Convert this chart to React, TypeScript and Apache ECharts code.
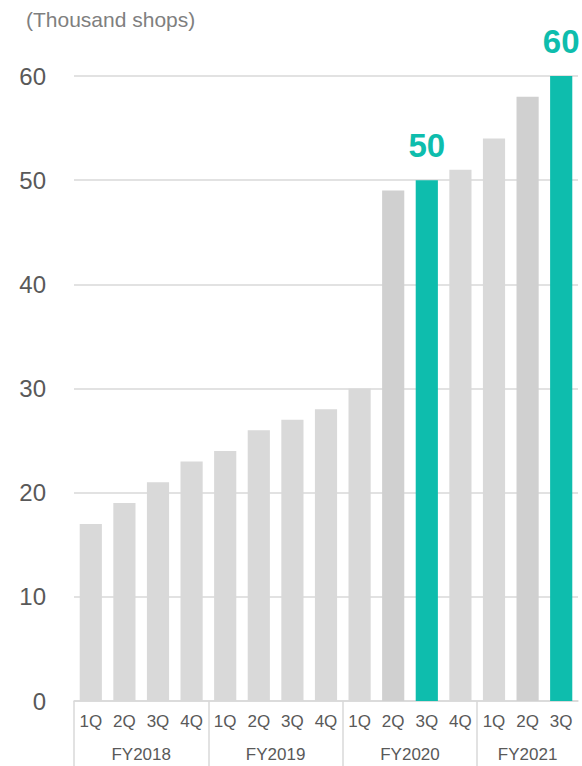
import React, { useEffect, useRef } from "react";
import * as echarts from "echarts";

// Shop count by quarter (thousand shops)
const quarters = ["1Q", "2Q", "3Q", "4Q", "1Q", "2Q", "3Q", "4Q", "1Q", "2Q", "3Q", "4Q", "1Q", "2Q", "3Q"];
const shops = [17, 19, 21, 23, 24, 26, 27, 28, 30, 49, 50, 51, 54, 58, 60];
const fiscalYears = ["FY2018", "FY2019", "FY2020", "FY2021"];
const quartersPerYear = [4, 4, 4, 3];
const milestones = [50, 60];
const unitLabel = "(Thousand shops)";
const yMin = 0;
const yMax = 60;
const yStep = 10;

const FONT = "'Liberation Sans', Arial, sans-serif";
const TEAL = "#0ebdad";
const GREY = "#d9d9d9";
const GREY_DARK = "#d0d0d0";
const TEXT = "#595959";
const LINE = "#d9d9d9";

export default function App() {
  const ref = useRef<HTMLDivElement>(null);

  useEffect(() => {
    if (!ref.current) return;
    const chart = echarts.init(ref.current, null, { renderer: "svg" });

    // Second-level axis: half-category points so year labels sit at group centres
    const halfPoints: string[] = new Array(quarters.length * 2 + 1).fill("");
    const boundaries: number[] = [];
    let start = 0;
    fiscalYears.forEach((fy, i) => {
      boundaries.push(start * 2);
      halfPoints[start * 2 + quartersPerYear[i]] = fy;
      start += quartersPerYear[i];
    });

    const barData = shops.map((v, i) => {
      const isMilestone = milestones.includes(v);
      const darker = quarters[i] === "2Q" && i >= 8;
      return {
        value: v,
        itemStyle: { color: isMilestone ? TEAL : darker ? GREY_DARK : GREY },
        label: isMilestone
          ? {
              show: true,
              position: "top",
              distance: 18,
              formatter: "{c}",
              color: TEAL,
              fontSize: 33,
              fontWeight: "bold",
              fontFamily: FONT,
            }
          : { show: false },
      };
    });

    chart.setOption({
      animation: false,
      title: {
        text: unitLabel,
        left: 21,
        top: 4,
        textStyle: { color: "#7f7f7f", fontSize: 21, fontWeight: "normal", fontFamily: FONT },
      },
      grid: { left: 74, right: 4, top: 76, bottom: 65, containLabel: false },
      xAxis: [
        {
          type: "category",
          data: quarters,
          axisLine: { show: true, lineStyle: { color: LINE, width: 1.5 } },
          axisTick: { show: false },
          axisLabel: {
            interval: 0,
            margin: 12,
            color: TEXT,
            fontSize: 17,
            fontFamily: FONT,
          },
        },
        {
          type: "category",
          position: "bottom",
          data: halfPoints,
          boundaryGap: false,
          axisLine: { show: false },
          axisTick: {
            show: true,
            length: 66,
            interval: (index: number) => boundaries.includes(index),
            lineStyle: { color: LINE, width: 1.5 },
          },
          axisLabel: {
            interval: 0,
            margin: 45,
            color: TEXT,
            fontSize: 17,
            fontFamily: FONT,
          },
        },
      ],
      yAxis: {
        type: "value",
        min: yMin,
        max: yMax,
        interval: yStep,
        axisLine: { show: false },
        axisTick: { show: false },
        axisLabel: { margin: 28, color: TEXT, fontSize: 24, fontFamily: FONT },
        splitLine: { show: true, lineStyle: { color: LINE, width: 1.5 } },
      },
      series: [
        {
          type: "bar",
          xAxisIndex: 0,
          data: barData,
          barWidth: "66%",
        },
      ],
    });

    return () => chart.dispose();
  }, []);

  return (
    <div
      ref={ref}
      style={{ position: "fixed", left: 0, top: 0, width: 582, height: 766, background: "#fff" }}
    />
  );
}
